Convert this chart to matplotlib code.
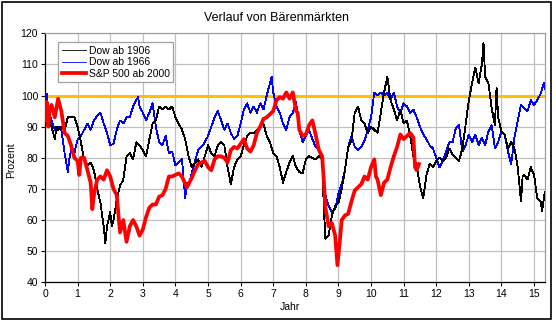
import matplotlib
matplotlib.use("Agg")
import matplotlib.pyplot as plt
from matplotlib.patches import Rectangle

plt.rcParams['font.family'] = ['Liberation Sans', 'DejaVu Sans']

# Dow ab 1906
dow1906_x = [0, 0.05, 0.1, 0.2, 0.3, 0.35, 0.4, 0.5, 0.6, 0.7, 0.8, 0.9, 1.0, 1.1, 1.2, 1.3, 1.4, 1.5, 1.6, 1.7,
             1.8, 1.85, 1.9, 2.0, 2.05, 2.1, 2.2, 2.3, 2.4, 2.5, 2.6, 2.7, 2.8, 2.9, 3.0, 3.1, 3.2, 3.3, 3.4, 3.5,
             3.6, 3.7, 3.8, 3.9, 4.0, 4.1, 4.2, 4.3, 4.4, 4.5, 4.6, 4.7, 4.8, 4.9, 5.0, 5.1, 5.2, 5.3, 5.4, 5.5,
             5.6, 5.7, 5.8, 5.9, 6.0, 6.1, 6.2, 6.3, 6.4, 6.5, 6.6, 6.7, 6.8, 6.9, 7.0, 7.1, 7.2, 7.3, 7.4, 7.5,
             7.6, 7.7, 7.8, 7.9, 8.0, 8.1, 8.2, 8.3, 8.4, 8.5, 8.55, 8.6, 8.7, 8.8, 8.9, 9.0, 9.1, 9.2, 9.3, 9.4,
             9.5, 9.6, 9.7, 9.8, 9.9, 10.0, 10.1, 10.2, 10.3, 10.4, 10.5, 10.6, 10.7, 10.8, 10.9, 11.0, 11.1, 11.2,
             11.3, 11.4, 11.5, 11.6, 11.7, 11.8, 11.9, 12.0, 12.1, 12.2, 12.3, 12.4, 12.5, 12.6, 12.7, 12.8, 12.9,
             13.0, 13.1, 13.2, 13.3, 13.4, 13.45, 13.5, 13.6, 13.7, 13.8, 13.85, 13.9, 14.0, 14.1, 14.2, 14.3, 14.4,
             14.5, 14.6, 14.65, 14.7, 14.8, 14.9, 15.0, 15.1, 15.2, 15.25, 15.33]
dow1906_y = [98, 95, 93, 90, 86, 90, 89, 90, 89, 93, 93, 93, 90, 85, 79.5, 77.5, 78.5, 76, 70, 65.5,
             58, 52.5, 58, 62.5, 58, 60, 66.5, 71, 73, 80.5, 81.5, 79.5, 85, 84, 82.5, 80.5, 86, 91, 92, 96.5,
             95.5, 96.5, 95.5, 96.5, 93, 91, 89, 86, 80.5, 77, 78.5, 79.5, 77, 80.5, 84, 81.5, 80.5, 84, 85, 84,
             77, 71.5, 77, 79.5, 80.5, 84, 87, 88, 88, 89, 90, 91, 87, 85, 81.5, 80.5, 77, 72, 75.5, 78.5,
             80.5, 77, 75.5, 75, 79.5, 80.5, 80, 79.5, 80.5, 79.5, 64.5, 54, 55, 61.5, 64.5, 65.5, 70, 76, 83.5, 85.5,
             94.5, 96.5, 92, 91, 88, 90, 89, 88, 94.5, 101, 106, 98.5, 95.5, 92, 95.5, 91, 92, 87,
             80.5, 77.5, 71, 67, 74.5, 78, 77, 79, 80, 79, 80, 83, 81, 80, 79, 83, 90.5,
             98.5, 104, 109, 104, 110, 117, 106, 104, 96, 90.5, 102.5, 93, 88.5, 87.5, 83, 85, 83,
             77, 66, 74, 74.5, 73, 77, 74.5, 67, 66, 63, 69]

# Dow ab 1966
dow1966_x = [0, 0.05, 0.1, 0.2, 0.3, 0.4, 0.5, 0.6, 0.7, 0.75, 0.8, 0.9, 1.0, 1.1, 1.2, 1.3, 1.4, 1.5, 1.6, 1.7,
             1.8, 1.9, 2.0, 2.1, 2.2, 2.3, 2.4, 2.5, 2.6, 2.7, 2.8, 2.85, 2.9, 3.0, 3.1, 3.2, 3.3, 3.4, 3.5, 3.6,
             3.7, 3.8, 3.9, 4.0, 4.1, 4.2, 4.3, 4.35, 4.4, 4.5, 4.6, 4.7, 4.8, 4.9, 5.0, 5.1, 5.2, 5.3, 5.4, 5.5,
             5.6, 5.7, 5.8, 5.9, 6.0, 6.1, 6.2, 6.3, 6.4, 6.5, 6.6, 6.7, 6.8, 6.9, 6.95, 7.0, 7.1, 7.2, 7.3, 7.4,
             7.5, 7.6, 7.7, 7.8, 7.9, 8.0, 8.1, 8.2, 8.3, 8.4, 8.5, 8.55, 8.6, 8.7, 8.8, 8.9, 9.0, 9.1, 9.2, 9.3,
             9.4, 9.5, 9.6, 9.7, 9.8, 9.9, 10.0, 10.1, 10.2, 10.3, 10.4, 10.5, 10.6, 10.7, 10.8, 10.9, 11.0, 11.1,
             11.2, 11.3, 11.4, 11.5, 11.6, 11.7, 11.8, 11.9, 12.0, 12.1, 12.2, 12.3, 12.4, 12.5, 12.6, 12.7, 12.8,
             12.9, 13.0, 13.1, 13.2, 13.3, 13.4, 13.5, 13.6, 13.7, 13.8, 13.9, 14.0, 14.1, 14.2, 14.3, 14.4, 14.5,
             14.6, 14.7, 14.8, 14.9, 15.0, 15.1, 15.2, 15.3, 15.33]
dow1966_y = [98.5, 100.5, 95, 92, 89, 90, 89, 81.5, 75.5, 80, 82.5, 81.5, 86, 87, 89, 91, 89, 92, 93.5, 94.5,
             91, 88, 84, 84.5, 89, 92, 91, 93, 93, 96.5, 98.5, 99.5, 96.5, 94.5, 92, 94.5, 97.5, 90, 85, 84,
             87, 81.5, 82, 77.5, 78.5, 79.5, 67, 72, 71, 75, 79, 82.5, 83.5, 85, 87, 90, 93, 95, 92, 89,
             91, 88, 86, 87, 91, 95.5, 97.5, 94.5, 96.5, 94.5, 97.5, 95.5, 100, 104, 106, 101, 96.5, 94.5, 91, 89,
             93, 94.5, 98, 89, 85, 87, 89, 86, 83.5, 82.5, 80.5, 70, 68, 64.5, 62.5, 63.5, 68.5, 71.5, 76, 83.5,
             87, 83.5, 82.5, 83.5, 85.5, 89, 93, 101, 100, 101, 100, 101, 98.5, 101, 96.5, 94.5, 97.5, 96.5,
             94.5, 95.5, 93, 90, 87.5, 86, 84, 83, 80, 77, 79, 82, 85, 85, 89.5, 90.5, 82,
             84, 87.5, 85, 87.5, 84, 86.5, 84, 88.5, 90.5, 83, 85, 88.5, 87.5, 82, 78, 86.5, 92,
             97, 96, 95, 98.5, 97, 98.5, 100.5, 104, 102]

# S&P 500 ab 2000
sp500_x = [0, 0.05, 0.1, 0.15, 0.2, 0.3, 0.4, 0.5, 0.6, 0.7, 0.8, 0.9, 1.0, 1.05, 1.1, 1.2, 1.3, 1.4, 1.45, 1.5,
           1.6, 1.7, 1.8, 1.9, 2.0, 2.1, 2.2, 2.3, 2.4, 2.5, 2.6, 2.7, 2.8, 2.9, 3.0, 3.1, 3.2, 3.3, 3.4, 3.5,
           3.6, 3.7, 3.8, 3.9, 4.0, 4.1, 4.2, 4.35, 4.5, 4.6, 4.7, 4.8, 4.9, 5.0, 5.1, 5.2, 5.3, 5.4, 5.5, 5.6,
           5.7, 5.8, 5.9, 6.0, 6.1, 6.2, 6.3, 6.4, 6.5, 6.6, 6.7, 6.8, 6.9, 7.0, 7.1, 7.2, 7.3, 7.4, 7.5, 7.6,
           7.7, 7.75, 7.8, 7.9, 8.0, 8.1, 8.2, 8.3, 8.4, 8.5, 8.55, 8.6, 8.7, 8.8, 8.9, 8.97, 9.05, 9.1, 9.2, 9.3,
           9.4, 9.5, 9.6, 9.7, 9.8, 9.9, 10.0, 10.1, 10.15, 10.2, 10.3, 10.4, 10.5, 10.6, 10.7, 10.8, 10.9, 11.0,
           11.1, 11.2, 11.3, 11.35, 11.4, 11.47]
sp500_y = [92, 98, 90, 96, 97, 93, 99, 95, 88, 87, 84, 80, 79, 74.5, 80, 80, 76, 72, 63.5, 68,
           73, 74, 73, 76, 74, 70, 68, 56, 60, 53, 58, 60, 58, 55, 57, 61, 64, 65, 65, 67.5,
           68, 70, 74, 74, 74.5, 75, 74, 70.5, 73.5, 76, 78, 78.5, 79, 77, 76, 79.5, 80.5, 80.5, 80, 78.5,
           82.5, 83.5, 83, 84.5, 86, 83, 82, 84, 88, 90, 92.5, 93, 94, 95, 98.5, 99.5, 99, 101, 99, 101,
           95, 94.5, 89, 87, 87.5, 90.5, 92, 87.5, 82.5, 80.5, 73, 64, 58, 59, 55, 45.5, 54, 60, 61.5, 62,
           66, 69.5, 70.5, 71.5, 74, 73, 77, 79.5, 74, 73, 68, 72, 73, 77, 80.5, 83.5, 87.5, 86,
           87, 88, 86.5, 77, 76, 78]

series_labels = ['Dow ab 1906', 'Dow ab 1966', 'S&P 500 ab 2000']
x_ticks = list(range(0, 16))
y_ticks = list(range(40, 121, 10))

fig = plt.figure(figsize=(5.56, 3.22), dpi=100)
ax = fig.add_axes([0.081, 0.1233, 0.9, 0.7733])

ax.axhline(100, color='#FFC000', lw=2.2, zorder=2)
ax.plot(dow1906_x, dow1906_y, color='black', lw=0.6, label=series_labels[0], zorder=4, antialiased=False)
ax.plot(dow1966_x, dow1966_y, color='#0000FF', lw=0.6, label=series_labels[1], zorder=3, antialiased=False)
ax.plot(sp500_x, sp500_y, color='#FF0000', lw=2.7, label=series_labels[2], zorder=5)

ax.set_xlim(0, 15.35)
ax.set_ylim(40, 120)
ax.set_xticks(x_ticks)
ax.set_yticks(y_ticks)
ax.tick_params(labelsize=7.5, length=3, width=0.8, direction='out', pad=2)
ax.grid(True, color='#c0c0c0', lw=0.9, zorder=0)
ax.set_axisbelow(True)
for side in ['top', 'right']:
    ax.spines[side].set_color('#a0a0a0')
    ax.spines[side].set_linewidth(0.9)
for side in ['left', 'bottom']:
    ax.spines[side].set_linewidth(0.9)

leg = ax.legend(loc='upper left', bbox_to_anchor=(0.026, 0.965), fontsize=7.5, frameon=True,
                fancybox=False, edgecolor='#a0a0a0', framealpha=1, borderpad=0.35,
                labelspacing=0.15, handlelength=2.3, handletextpad=0.3, borderaxespad=0)
leg.get_frame().set_linewidth(0.9)

fig.text(277 / 556, 1 - 18 / 322, 'Verlauf von Bärenmärkten', ha='center', va='center', fontsize=9)
fig.text(11 / 556, 1 - 160 / 322, 'Prozent', ha='center', va='center', rotation=90, fontsize=7.5)
fig.text(290 / 556, 1 - 307 / 322, 'Jahr', ha='center', va='center', fontsize=7.5)

fig.patches.append(Rectangle((1.5 / 556, 3.5 / 322), 549.5 / 556, 316.5 / 322, transform=fig.transFigure,
                             fill=False, edgecolor='black', lw=1.2))

fig.savefig('out.png', dpi=100)
